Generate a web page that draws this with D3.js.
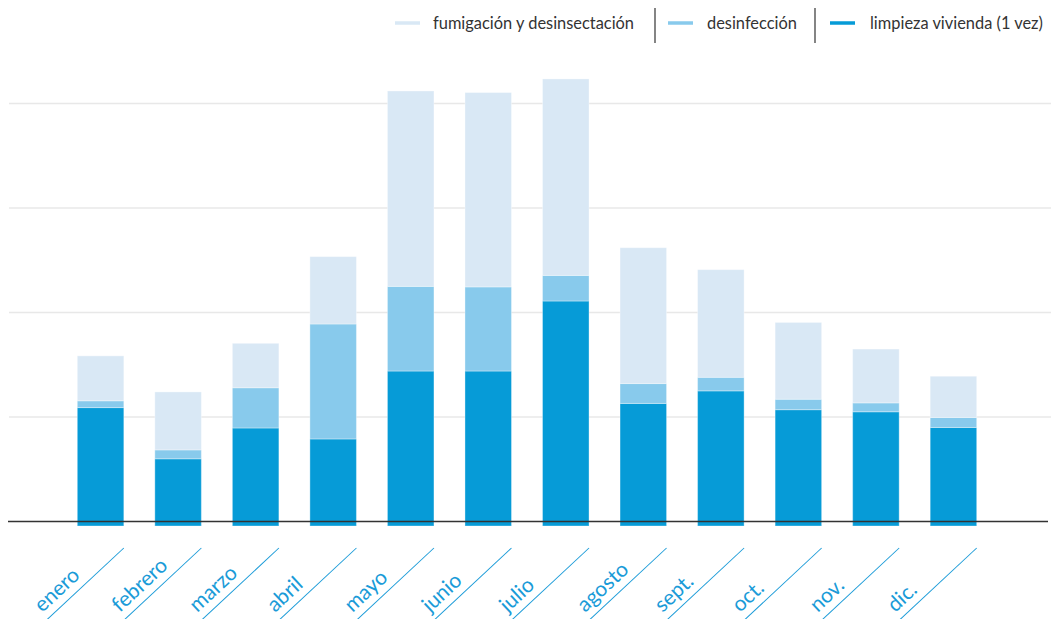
<!DOCTYPE html>
<html>
<head>
<meta charset="utf-8">
<script src="https://d3js.org/d3.v7.min.js"></script>
<style>
  body { margin: 0; background: #fff; }
  text { font-family: Lato, "Open Sans", sans-serif; }
</style>
</head>
<body>
<script>
var meses = ['enero','febrero','marzo','abril','mayo','junio','julio','agosto','sept.','oct.','nov.','dic.'];
var limpieza = [10.9, 6.0, 8.95, 7.9, 14.4, 14.4, 21.1, 11.3, 12.5, 10.7, 10.5, 9.0];
var desinfeccion = [0.65, 0.85, 3.85, 11.0, 8.1, 8.05, 2.45, 1.9, 1.3, 1.0, 0.85, 0.95];
var fumigacion = [4.3, 5.55, 4.25, 6.45, 18.7, 18.6, 18.8, 13.0, 10.3, 7.35, 5.15, 3.95];
var series = ['limpieza', 'desinfeccion', 'fumigacion'];
var nombres = {limpieza: 'limpieza vivienda (1 vez)', desinfeccion: 'desinfección', fumigacion: 'fumigación y desinsectación'};
var colores = {limpieza: '#069bd7', desinfeccion: '#88caec', fumigacion: '#d9e8f5'};
var grid = [10, 20, 30, 40];

var W = 1051, H = 619;
var datos = meses.map(function(m, i) {
  return {mes: m, limpieza: limpieza[i], desinfeccion: desinfeccion[i], fumigacion: fumigacion[i]};
});

var svg = d3.select('body').append('svg').attr('width', W).attr('height', H);

var x = d3.scaleBand().domain(meses).range([77.3, 976.7]).paddingInner(0.4).paddingOuter(0);
var y = d3.scaleLinear().domain([0, 40]).range([521.5, 103.5]);

// gridlines
svg.append('g').selectAll('line').data(grid).enter().append('line')
  .attr('x1', 9).attr('x2', W)
  .attr('y1', d => y(d)).attr('y2', d => y(d))
  .attr('stroke', '#e8e8e8').attr('stroke-width', 1.5);

var pila = d3.stack().keys(series)(datos);

svg.append('g').selectAll('g').data(pila).enter().append('g')
  .attr('fill', d => colores[d.key])
  .selectAll('rect').data(d => d).enter().append('rect')
  .attr('x', d => x(d.data.mes))
  .attr('width', x.bandwidth())
  .attr('y', d => y(d[1]))
  .attr('height', d => y(d[0]) - y(d[1]) + (d[0] === 0 ? 4.5 : 0))
  .attr('stroke', 'rgba(255,255,255,0.35)').attr('stroke-width', 1);

// baseline
svg.append('line').attr('x1', 8).attr('x2', 1048)
  .attr('y1', y(0)).attr('y2', y(0))
  .attr('stroke', '#333').attr('stroke-width', 1.5);

// month labels
var ang = -43;
var etiquetas = svg.append('g').selectAll('g').data(meses).enter().append('g')
  .attr('transform', d => 'translate(' + (x(d) + x.bandwidth()) + ',548) rotate(' + ang + ')');
etiquetas.append('line')
  .attr('x1', 0).attr('x2', -130).attr('y1', 0).attr('y2', 0)
  .attr('stroke', '#1a9bd8').attr('stroke-width', 1);
etiquetas.append('text')
  .attr('x', -104).attr('y', -8)
  .attr('fill', '#1a9bd8')
  .style('font-size', '21px')
  .text(d => d);

// legend
var ley = [
  {k: 'fumigacion', x: 395, tx: 433, sep: 655},
  {k: 'desinfeccion', x: 668, tx: 707, sep: 815},
  {k: 'limpieza', x: 830, tx: 870, sep: null}
];
var lg = svg.append('g');
ley.forEach(function(l) {
  lg.append('line').attr('x1', l.x).attr('x2', l.x + 25).attr('y1', 23).attr('y2', 23)
    .attr('stroke', colores[l.k]).attr('stroke-width', 3.5);
  lg.append('text').attr('x', l.tx).attr('y', 29)
    .attr('fill', '#333').style('font-size', '16.4px')
    .text(nombres[l.k]);
  if (l.sep) {
    lg.append('line').attr('x1', l.sep).attr('x2', l.sep).attr('y1', 8).attr('y2', 43)
      .attr('stroke', '#333').attr('stroke-width', 1.2);
  }
});
</script>
</body>
</html>
